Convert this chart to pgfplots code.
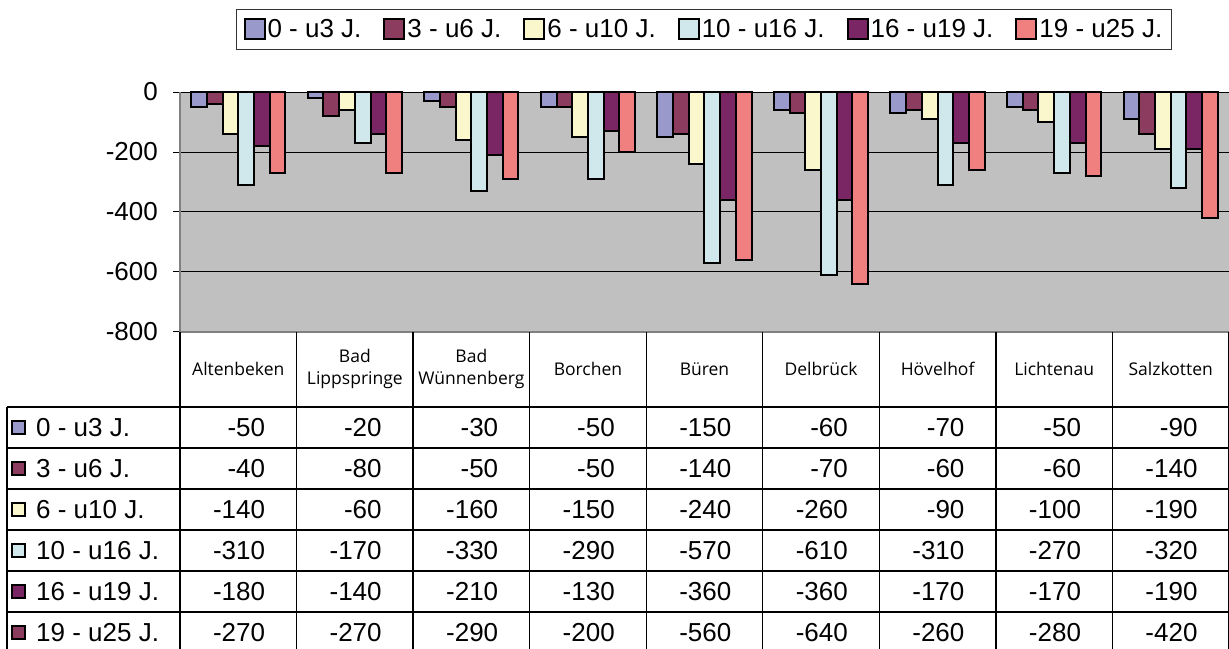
\documentclass[border=0pt]{standalone}
\usepackage{fontspec}
\setmainfont{Liberation Sans}
\newfontfamily\catfont{Open Sans}
\usepackage{pgfplots}
\usepackage{pgfplotstable}
\pgfplotsset{compat=1.18}

\definecolor{cA}{RGB}{153,153,204}
\definecolor{cB}{RGB}{140,60,95}
\definecolor{cC}{RGB}{250,247,205}
\definecolor{cD}{RGB}{208,232,236}
\definecolor{cE}{RGB}{122,38,100}
\definecolor{cF}{RGB}{240,128,128}
\definecolor{plotgray}{RGB}{192,192,192}
\definecolor{axisgray}{RGB}{128,128,128}

\newcommand\bigf{\fontsize{26}{30}\selectfont}

\pgfplotsset{
  boxkey/.style={legend image code/.code={%
    \draw[fill=#1,draw=black,line width=2pt] (0pt,-10pt) rectangle (20pt,10pt);}},
}

% rows: Altenbeken, Bad Lippspringe, Bad Wuennenberg, Borchen, Bueren,
% Delbrueck, Hoevelhof, Lichtenau, Salzkotten
\pgfplotstableread{
a    b    c    d    e    f
-50  -40  -140 -310 -180 -270
-20  -80  -60  -170 -140 -270
-30  -50  -160 -330 -210 -290
-50  -50  -150 -290 -130 -200
-150 -140 -240 -570 -360 -560
-60  -70  -260 -610 -360 -640
-70  -60  -90  -310 -170 -260
-50  -60  -100 -270 -170 -280
-90  -140 -190 -320 -190 -420
}\data

\begin{document}
\begin{tikzpicture}
\useasboundingbox (0,0) rectangle (1229pt,648pt);
\clip (0,0) rectangle (1229pt,648pt);

\begin{axis}[
  at={(180pt,316pt)}, anchor=south west,
  width=1049pt, height=240pt, scale only axis,
  ybar=0pt, bar width=15.7pt,
  xmin=0.5, xmax=9.5, ymin=-800, ymax=0,
  xtick=\empty,
  ytick={-800,-600,-400,-200,0},
  axis background/.style={fill=plotgray},
  ymajorgrids, grid style={black, line width=1pt},
  axis x line=bottom, axis y line=left,
  axis line style={-},
  x axis line style={axisgray, line width=2.5pt},
  y axis line style={axisgray, line width=2.5pt},
  tick align=outside, major tick length=7pt,
  ytick style={black, line width=1pt},
  yticklabel style={font=\bigf, inner sep=0pt, xshift=-15pt},
  /pgf/number format/assume math mode=true,
  clip=false,
  legend columns=6,
  legend style={at={(axis description cs:0.4995,1.3458)}, anchor=north,
    draw=black!80, line width=1.2pt, fill=white, font=\bigf,
    inner xsep=7pt, inner ysep=5pt,
    nodes={inner xsep=2pt, inner ysep=5pt},
    /tikz/every even column/.append style={column sep=20pt}},
]
\addplot[fill=cA, draw=black, line width=2pt, boxkey=cA] table[x expr=\coordindex+1, y=a] {\data};
\addplot[fill=cB, draw=black, line width=2pt, boxkey=cB] table[x expr=\coordindex+1, y=b] {\data};
\addplot[fill=cC, draw=black, line width=2pt, boxkey=cC] table[x expr=\coordindex+1, y=c] {\data};
\addplot[fill=cD, draw=black, line width=2pt, boxkey=cD] table[x expr=\coordindex+1, y=d] {\data};
\addplot[fill=cE, draw=black, line width=2pt, boxkey=cE] table[x expr=\coordindex+1, y=e] {\data};
\addplot[fill=cF, draw=black, line width=2pt, boxkey=cF] table[x expr=\coordindex+1, y=f] {\data};
\legend{0 - u3 J.,3 - u6 J.,6 - u10 J.,10 - u16 J.,16 - u19 J.,19 - u25 J.}
\end{axis}

\begin{scope}[x=1pt,y=1pt]
\def\colw{116.5556}
% table grid
\foreach \k in {0,...,9}
  \draw[line width=1.3pt] ({180+\k*\colw},316) -- ({180+\k*\colw},-10);
\draw[line width=1.3pt] (7,241) -- (7,-10);
\foreach \yy in {241,200,159,118,77,36}
  \draw[line width=1.3pt] (7,\yy) -- (1229,\yy);
% category names
\foreach \name [count=\k from 0] in {Altenbeken,{Bad\\Lippspringe},{Bad\\Wünnenberg},Borchen,Büren,Delbrück,Hövelhof,Lichtenau,Salzkotten}
  \node[align=center, inner sep=0pt, font=\catfont\fontsize{17.5}{22}\selectfont]
    at ({180+(\k+0.5)*\colw},279) {\name};
% series labels
\foreach \lab/\col [count=\r from 0] in {0 - u3 J./cA,3 - u6 J./cB,6 - u10 J./cC,10 - u16 J./cD,16 - u19 J./cE,19 - u25 J./cB}{
  \draw[fill=\col, line width=1.6pt] (12,{220.5-41*\r-6.5}) rectangle (25,{220.5-41*\r+6.5});
  \node[anchor=west, inner sep=0pt, font=\bigf] at (36,{220.5-41*\r}) {\lab};
}
% values
\foreach \c [count=\r from 0] in {a,b,c,d,e,f}{
  \foreach \k in {0,...,8}{
    \pgfplotstablegetelem{\k}{\c}\of\data
    \node[anchor=east, inner sep=0pt, font=\bigf]
      at ({180+(\k+0.5)*\colw+27},{220.5-41*\r}) {\pgfplotsretval};
  }
}
\end{scope}
\end{tikzpicture}
\end{document}
